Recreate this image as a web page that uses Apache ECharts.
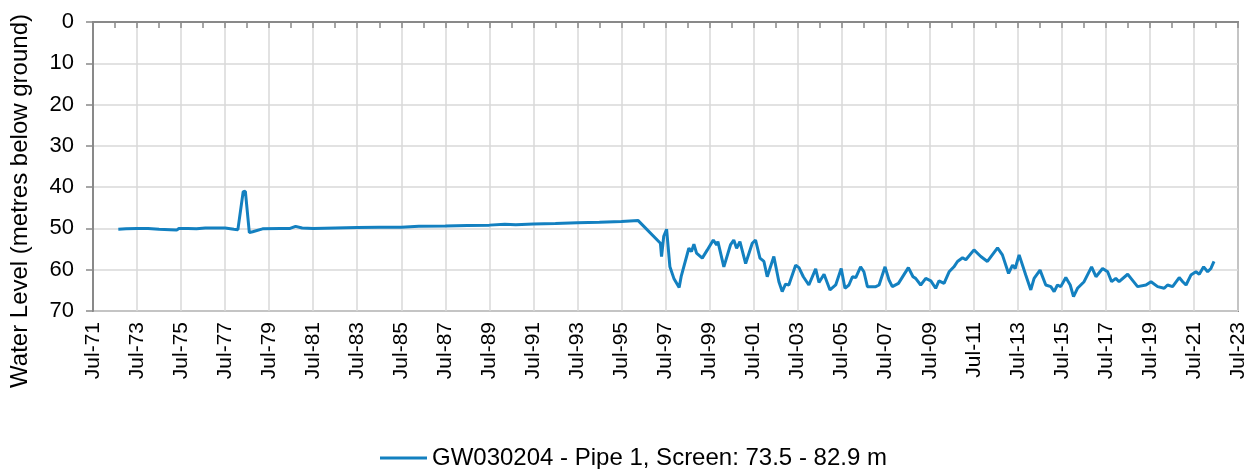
<!DOCTYPE html>
<html>
<head>
<meta charset="utf-8">
<script src="https://cdn.jsdelivr.net/npm/echarts@6/dist/echarts.min.js"></script>
<style>
  html, body { margin: 0; padding: 0; background: #ffffff; }
  #chart { width: 1253px; height: 469px; }
</style>
</head>
<body>
<div id="chart"></div>
<script>
// Decimal years of each reading
const years = [
  1972.65, 1973.0, 1973.5, 1974.0, 1974.5, 1975.0, 1975.3, 1975.4, 1975.8, 1976.2,
  1976.6, 1977.0, 1977.5, 1977.9, 1978.08, 1978.32, 1978.42, 1978.51, 1978.6, 1978.75,
  1979.2, 1980.0, 1980.45, 1980.7, 1981.0, 1981.5, 1982.5, 1983.5, 1984.5, 1985.5,
  1986.3, 1987.5, 1988.5, 1989.5, 1990.2, 1990.7, 1991.5, 1992.5, 1993.5, 1994.5,
  1995.5, 1996.26, 1997.27, 1997.32, 1997.42, 1997.55, 1997.70, 1997.88, 1998.12, 1998.21,
  1998.56, 1998.68, 1998.79, 1998.91, 1999.17, 1999.40, 1999.67, 1999.82, 1999.88, 2000.15,
  2000.45, 2000.60, 2000.73, 2000.88, 2001.14, 2001.44, 2001.59, 2001.79, 2001.97, 2002.12,
  2002.42, 2002.65, 2002.80, 2002.95, 2003.10, 2003.41, 2003.56, 2003.76, 2004.01, 2004.32,
  2004.47, 2004.70, 2004.97, 2005.23, 2005.48, 2005.65, 2005.83, 2005.99, 2006.14, 2006.36,
  2006.51, 2006.67, 2007.05, 2007.20, 2007.47, 2007.65, 2007.80, 2008.08, 2008.53, 2008.74,
  2008.86, 2009.09, 2009.32, 2009.55, 2009.77, 2009.92, 2010.15, 2010.38, 2010.60, 2010.76,
  2010.99, 2011.14, 2011.51, 2011.82, 2012.12, 2012.58, 2012.80, 2013.08, 2013.26, 2013.38,
  2013.56, 2013.86, 2014.09, 2014.24, 2014.51, 2014.77, 2015.00, 2015.15, 2015.30, 2015.45,
  2015.68, 2015.88, 2016.03, 2016.21, 2016.51, 2016.85, 2017.05, 2017.35, 2017.58, 2017.76,
  2017.95, 2018.10, 2018.49, 2018.64, 2018.94, 2019.32, 2019.55, 2019.85, 2020.15, 2020.30,
  2020.53, 2020.83, 2020.99, 2021.14, 2021.36, 2021.59, 2021.74, 2021.94, 2022.12, 2022.27,
  2022.41
];
// Water level, metres below ground
const levels = [
  50.2, 50.1, 50.0, 50.0, 50.2, 50.3, 50.4, 50.0, 50.0, 50.1,
  49.9, 49.9, 49.9, 50.2, 50.3, 41.1, 41.0, 41.3, 51.0, 50.8,
  50.1, 50.0, 50.0, 49.5, 49.9, 50.0, 49.9, 49.8, 49.7, 49.7,
  49.5, 49.4, 49.3, 49.2, 49.0, 49.1, 48.9, 48.8, 48.6, 48.5,
  48.3, 48.1, 53.6, 56.8, 51.9, 50.2, 59.3, 62.1, 64.3, 61.7,
  54.8, 55.6, 53.8, 56.0, 57.2, 55.2, 52.8, 54.0, 53.2, 59.3,
  54.0, 52.8, 54.8, 53.2, 58.5, 53.6, 52.8, 57.2, 58.0, 61.7,
  56.8, 62.9, 65.3, 63.5, 63.7, 58.9, 59.5, 61.7, 63.7, 59.8,
  63.1, 61.1, 64.9, 63.7, 59.7, 64.5, 63.7, 61.7, 61.9, 59.3,
  60.5, 64.1, 64.1, 63.7, 59.3, 62.5, 64.1, 63.3, 59.5, 61.7,
  62.1, 63.7, 62.1, 62.7, 64.5, 62.7, 63.3, 60.5, 59.3, 58.0,
  57.1, 57.6, 55.2, 56.8, 58.0, 54.7, 56.4, 60.9, 58.9, 59.7,
  56.4, 61.3, 64.9, 62.1, 60.1, 63.7, 64.1, 65.3, 63.7, 64.1,
  61.9, 63.7, 66.5, 64.5, 62.9, 59.3, 61.7, 59.7, 60.5, 62.9,
  62.1, 62.9, 61.1, 62.1, 64.1, 63.7, 62.9, 64.1, 64.5, 63.7,
  64.1, 61.9, 62.9, 63.7, 61.3, 60.5, 61.1, 59.3, 60.5, 59.7,
  58.0
];
const xTickLabels = ['Jul-71','Jul-73','Jul-75','Jul-77','Jul-79','Jul-81','Jul-83','Jul-85','Jul-87',
  'Jul-89','Jul-91','Jul-93','Jul-95','Jul-97','Jul-99','Jul-01','Jul-03','Jul-05','Jul-07','Jul-09',
  'Jul-11','Jul-13','Jul-15','Jul-17','Jul-19','Jul-21','Jul-23'];
const yTickLabels = ['0','10','20','30','40','50','60','70'];
const seriesName = 'GW030204 - Pipe 1, Screen: 73.5 - 82.9 m';
const yTitle = 'Water Level (metres below ground)';
const xStartYear = 1971.5; // Jul-71

const FONT = '"Liberation Sans", Arial, sans-serif';
const lineColor = '#1380c0';
const axisColor = '#898989';
const gridColor = '#d9d9d9';

const chart = echarts.init(document.getElementById('chart'), null, { renderer: 'canvas' });
const pts = years.map((y, i) => [y - xStartYear, levels[i]]);

chart.setOption({
  animation: false,
  backgroundColor: '#ffffff',
  textStyle: { fontFamily: FONT },
  grid: {
    left: 93, right: 15, top: 22, bottom: 158,
    show: true, borderColor: axisColor, borderWidth: 2, backgroundColor: 'transparent'
  },
  graphic: [{
    type: 'text',
    x: 20, y: 201,
    rotation: Math.PI / 2,
    style: {
      text: yTitle, font: '24px ' + FONT, fill: '#000000',
      textAlign: 'center', textVerticalAlign: 'middle'
    }
  }],
  legend: {
    show: true,
    top: 444,
    left: 375,
    padding: [0, 5, 0, 5],
    icon: 'rect',
    itemWidth: 47,
    itemHeight: 3,
    itemGap: 6,
    textStyle: { fontFamily: FONT, fontSize: 24, lineHeight: 28, color: '#000000' },
    data: [seriesName]
  },
  xAxis: {
    type: 'value',
    min: 0, max: (xTickLabels.length - 1) * 2, interval: 2,
    axisLine: { show: true, lineStyle: { color: axisColor, width: 2 } },
    axisTick: { show: true, length: 6, lineStyle: { color: axisColor, width: 1.5 } },
    minorTick: { show: true, splitNumber: 2, length: 6, lineStyle: { color: axisColor, width: 1.5 } },
    splitLine: { show: true, lineStyle: { color: gridColor, width: 1.5 } },
    minorSplitLine: { show: false },
    axisLabel: {
      rotate: 90, margin: 11, fontSize: 21, color: '#000000', fontFamily: FONT,
      formatter: v => xTickLabels[Math.round(v / 2)]
    }
  },
  yAxis: {
    type: 'value',
    inverse: true,
    min: 0, max: 70, interval: 10,
    axisLine: { show: true, lineStyle: { color: axisColor, width: 2 } },
    axisTick: { show: true, length: 7, lineStyle: { color: axisColor, width: 1.5 } },
    splitLine: { show: true, lineStyle: { color: gridColor, width: 1.5 } },
    axisLabel: {
      margin: 19, fontSize: 22, color: '#000000', fontFamily: FONT,
      formatter: v => yTickLabels[Math.round(v / 10)]
    }
  },
  series: [{
    name: seriesName,
    type: 'line',
    data: pts,
    showSymbol: false,
    symbol: 'none',
    lineStyle: { color: lineColor, width: 3 },
    itemStyle: { color: lineColor },
    clip: true
  }]
});
</script>
</body>
</html>
